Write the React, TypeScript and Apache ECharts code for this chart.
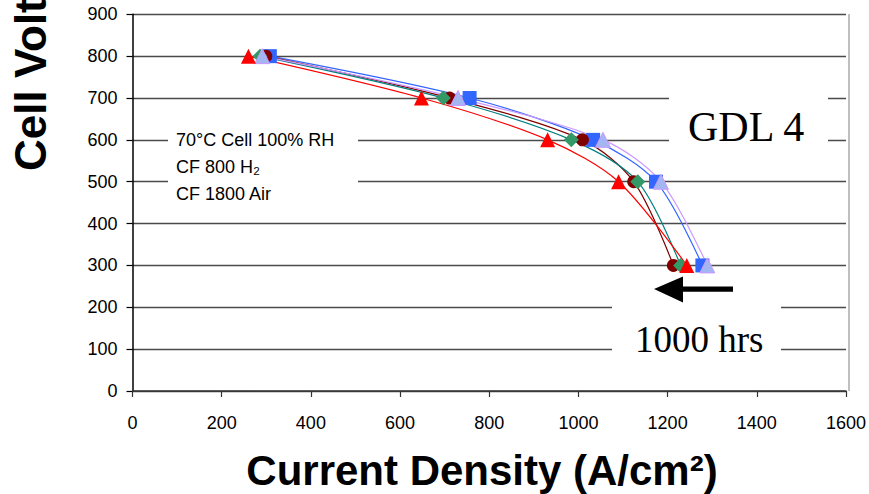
import React, { useEffect, useRef } from "react";
import * as echarts from "echarts";

// Cell voltage (mV) for each polarization point
const voltage = [800, 700, 600, 500, 300];
// Current density per series, read at each voltage
const redTriangle = [260, 648, 931, 1090, 1243];
const maroonCircle = [299, 711, 1009, 1124, 1213];
const greenDiamond = [286, 697, 984, 1133, 1229];
const blueSquare = [308, 756, 1033, 1174, 1278];
const lavenderTriangle = [291, 730, 1055, 1185, 1289];

const xTicks = { min: 0, max: 1600, interval: 200 };
const yTicks = { min: 0, max: 900, interval: 100 };

const conditionLines = ["70°C Cell 100% RH", "CF 800 H₂", "CF 1800 Air"];

const SANS = "'Liberation Sans', Arial, sans-serif";
const SERIF = "'Liberation Serif', 'Times New Roman', serif";

function pairs(xs: number[]) {
  return xs.map((x, i) => [x, voltage[i]]);
}

export default function App() {
  const ref = useRef<HTMLDivElement>(null);
  useEffect(() => {
    if (!ref.current) return;
    const chart = echarts.init(ref.current, undefined, { renderer: "svg" });
    const mk = (
      name: string,
      xs: number[],
      symbol: string,
      size: number,
      fill: string,
      line: string,
      border?: string
    ) => ({
      name,
      type: "line",
      data: pairs(xs),
      smooth: 0.3,
      symbol,
      symbolSize: size,
      showAllSymbol: true,
      lineStyle: { color: line, width: 1.2 },
      itemStyle: {
        color: fill,
        borderColor: border || fill,
        borderWidth: border ? 1 : 0,
      },
      z: 3,
    });
    chart.setOption({
      animation: false,
      backgroundColor: "#fff",
      grid: { left: 132.5, right: 19.5, top: 14.3, bottom: 103, containLabel: false },
      xAxis: {
        type: "value",
        min: xTicks.min,
        max: xTicks.max,
        interval: xTicks.interval,
        axisLine: { show: true, lineStyle: { color: "#333", width: 1.5 } },
        axisTick: { show: true, length: 6, inside: false, lineStyle: { color: "#333", width: 1.2 } },
        axisLabel: {
          margin: 23,
          fontFamily: SANS,
          fontSize: 18,
          color: "#000",
          formatter: (v: number) => String(v),
        },
        splitLine: { show: false },
      },
      yAxis: {
        type: "value",
        min: yTicks.min,
        max: yTicks.max,
        interval: yTicks.interval,
        axisLine: { show: true, lineStyle: { color: "#000", width: 1.5 } },
        axisTick: { show: true, length: 6, inside: false, lineStyle: { color: "#000", width: 1.2 } },
        axisLabel: {
          margin: 15,
          fontFamily: SANS,
          fontSize: 18,
          color: "#000",
          formatter: (v: number) => String(v),
        },
        splitLine: { show: true, lineStyle: { color: "#4a4a4a", width: 1.3 } },
      },
      series: [
        mk("GDL4 d", blueSquare, "rect", 14, "#3366FF", "#3366FF"),
        mk("GDL4 b", maroonCircle, "circle", 13, "#800000", "#800000"),
        mk("GDL4 c", greenDiamond, "diamond", 15, "#339966", "#008080"),
        mk("GDL4 e", lavenderTriangle, "triangle", 15, "#A3B6F2", "#CC99FF", "#CC99FF"),
        mk("GDL4 a", redTriangle, "triangle", 15, "#FF0000", "#FF0000"),
      ],
      graphic: [
        {
          type: "line",
          shape: { x1: 849, y1: 14, x2: 849, y2: 391 },
          style: { stroke: "#BFBFBF", lineWidth: 2 },
          z: 50,
        },
        { type: "rect", shape: { x: 168, y: 118, width: 190, height: 90 }, style: { fill: "#fff" }, z: 60 },
        { type: "rect", shape: { x: 669, y: 80, width: 159, height: 85 }, style: { fill: "#fff" }, z: 60 },
        { type: "rect", shape: { x: 612, y: 292, width: 169, height: 76 }, style: { fill: "#fff" }, z: 60 },
        ...conditionLines.map((t, i) => ({
          type: "text",
          x: 176,
          y: [140, 166.5, 194][i],
          style: {
            text: t,
            font: `18px ${SANS}`,
            fill: "#000",
            textAlign: "left",
            textVerticalAlign: "middle",
          },
          z: 70,
        })),
        {
          type: "text",
          x: 688,
          y: 127,
          style: {
            text: "GDL 4",
            font: `42px ${SERIF}`,
            fill: "#000",
            textAlign: "left",
            textVerticalAlign: "middle",
          },
          z: 70,
        },
        {
          type: "text",
          x: 635,
          y: 339,
          style: {
            text: "1000 hrs",
            font: `37px ${SERIF}`,
            fill: "#000",
            textAlign: "left",
            textVerticalAlign: "middle",
          },
          z: 70,
        },
        {
          type: "polygon",
          shape: {
            points: [
              [654, 289],
              [683, 276.5],
              [683, 286.5],
              [733, 286.5],
              [733, 291.8],
              [683, 291.8],
              [683, 302.5],
            ],
          },
          style: { fill: "#000" },
          z: 70,
        },
        {
          type: "text",
          x: 482,
          y: 470,
          style: {
            text: "Current Density (A/cm²)",
            font: `bold 42px ${SANS}`,
            fill: "#000",
            textAlign: "center",
            textVerticalAlign: "middle",
          },
          z: 70,
        },
        {
          type: "text",
          x: 30.5,
          y: 171,
          rotation: Math.PI / 2,
          style: {
            text: "Cell Voltage (mV)",
            font: `bold 44px ${SANS}`,
            fill: "#000",
            textAlign: "left",
            textVerticalAlign: "middle",
          },
          z: 70,
        },
      ],
    });
    return () => chart.dispose();
  }, []);
  return (
    <div
      ref={ref}
      style={{ position: "absolute", left: 0, top: 0, width: 869, height: 494 }}
    />
  );
}
